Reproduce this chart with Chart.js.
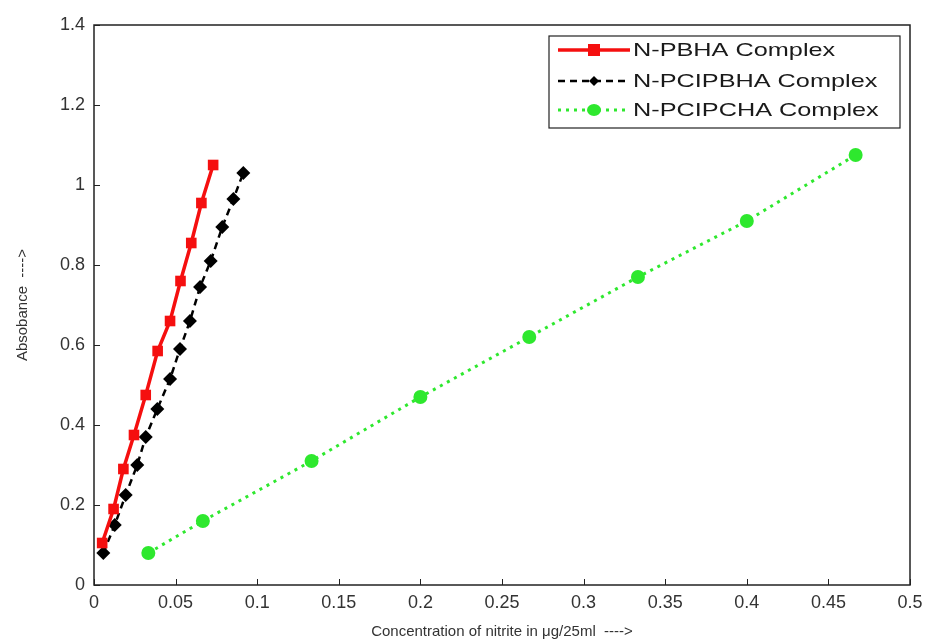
<!DOCTYPE html>
<html>
<head>
<meta charset="utf-8">
<script src="https://cdn.jsdelivr.net/npm/chart.js@4"></script>
<style>
  html, body { margin: 0; padding: 0; background: #fff; }
  #wrap { width: 927px; height: 641px; position: relative; }
</style>
</head>
<body>
<div id="wrap"><canvas id="absChart"></canvas></div>
<script>
// data
const seriesNames = ['N-PBHA Complex', 'N-PCIPBHA Complex', 'N-PCIPCHA Complex'];

const pbhaX = [0.005, 0.012, 0.018, 0.0245, 0.0317, 0.039, 0.0466, 0.053, 0.0596, 0.0658, 0.073];
const pbhaY = [0.105, 0.19, 0.29, 0.375, 0.475, 0.585, 0.66, 0.76, 0.855, 0.955, 1.05];

const pcipbhaX = [0.0057, 0.0127, 0.0194, 0.0265, 0.0317, 0.0388, 0.0466, 0.0527, 0.0588, 0.065, 0.0715, 0.0786, 0.0854, 0.0915];
const pcipbhaY = [0.08, 0.15, 0.225, 0.30, 0.37, 0.44, 0.515, 0.59, 0.66, 0.745, 0.81, 0.895, 0.965, 1.03];

const pcipchaX = [0.0333, 0.0667, 0.1333, 0.2, 0.2667, 0.3333, 0.4, 0.4667];
const pcipchaY = [0.08, 0.16, 0.31, 0.47, 0.62, 0.77, 0.91, 1.075];

const xTicks = [0, 0.05, 0.1, 0.15, 0.2, 0.25, 0.3, 0.35, 0.4, 0.45, 0.5];
const yTicks = [0, 0.2, 0.4, 0.6, 0.8, 1, 1.2, 1.4];

const RED = '#f50f0f';
const BLACK = '#000000';
const GREEN = '#2ee82e';
const FONT = '"Liberation Sans", Arial, sans-serif';

function pts(xs, ys) {
  return xs.map((x, i) => ({ x: x, y: ys[i] }));
}

// frame, inward ticks and legend box, matlab style
const framePlugin = {
  id: 'frame',
  afterDatasetsDraw(chart) {
    const ctx = chart.ctx;
    const a = chart.chartArea;
    const xs = chart.scales.x, ys = chart.scales.y;
    ctx.save();
    ctx.strokeStyle = '#222';
    ctx.lineWidth = 1.5;
    ctx.strokeRect(a.left, a.top, a.right - a.left, a.bottom - a.top);
    ctx.lineWidth = 1;
    ctx.beginPath();
    xTicks.forEach(v => {
      const px = Math.round(xs.getPixelForValue(v)) + 0.5;
      ctx.moveTo(px, a.bottom);
      ctx.lineTo(px, a.bottom - 6);
    });
    yTicks.forEach(v => {
      const py = Math.round(ys.getPixelForValue(v)) + 0.5;
      ctx.moveTo(a.left, py);
      ctx.lineTo(a.left + 6, py);
    });
    ctx.stroke();

    // legend
    const lx = 549, ly = 36, lw = 351, lh = 92;
    ctx.fillStyle = '#fff';
    ctx.fillRect(lx, ly, lw, lh);
    ctx.strokeStyle = '#222';
    ctx.lineWidth = 1.2;
    ctx.strokeRect(lx, ly, lw, lh);
    const rows = [50, 81, 110];
    chart.data.datasets.forEach((ds, i) => {
      const y = rows[i];
      ctx.strokeStyle = ds.borderColor;
      ctx.lineWidth = ds.borderWidth;
      ctx.setLineDash(ds.borderDash || []);
      ctx.beginPath();
      ctx.moveTo(558, y);
      ctx.lineTo(630, y);
      ctx.stroke();
      ctx.setLineDash([]);
      ctx.fillStyle = ds.pointBackgroundColor;
      const cx = 594;
      if (ds.pointStyle === 'rect') {
        ctx.fillRect(cx - 6, y - 6, 12, 12);
      } else if (ds.pointStyle === 'rectRot') {
        ctx.beginPath();
        ctx.moveTo(cx, y - 5); ctx.lineTo(cx + 5, y); ctx.lineTo(cx, y + 5); ctx.lineTo(cx - 5, y);
        ctx.closePath(); ctx.fill();
      } else {
        ctx.beginPath();
        ctx.ellipse(cx, y, 7, 6, 0, 0, Math.PI * 2);
        ctx.fill();
      }
      // reference text is stretched sideways
      ctx.save();
      ctx.translate(633, y + 1);
      ctx.scale(1.33, 1);
      ctx.fillStyle = '#1a1a1a';
      ctx.font = '19px ' + FONT;
      ctx.textBaseline = 'middle';
      ctx.fillText(ds.label, 0, 0);
      ctx.restore();
    });
    ctx.restore();
  }
};

document.addEventListener('DOMContentLoaded', function() {
  const ctx = document.getElementById('absChart');
  new Chart(ctx, {
    type: 'line',
    data: {
      datasets: [{
        label: seriesNames[0],
        data: pts(pbhaX, pbhaY),
        borderColor: RED,
        backgroundColor: RED,
        pointBackgroundColor: RED,
        pointBorderColor: RED,
        borderWidth: 3.5,
        pointStyle: 'rect',
        pointRadius: 7.5,
        pointBorderWidth: 0
      }, {
        label: seriesNames[1],
        data: pts(pcipbhaX, pcipbhaY),
        borderColor: BLACK,
        backgroundColor: BLACK,
        pointBackgroundColor: BLACK,
        pointBorderColor: BLACK,
        borderWidth: 2.5,
        borderDash: [7, 5],
        pointStyle: 'rectRot',
        pointRadius: 7,
        pointBorderWidth: 0
      }, {
        label: seriesNames[2],
        data: pts(pcipchaX, pcipchaY),
        borderColor: GREEN,
        backgroundColor: GREEN,
        pointBackgroundColor: GREEN,
        pointBorderColor: GREEN,
        borderWidth: 3,
        borderDash: [3, 5],
        pointStyle: 'circle',
        pointRadius: 7,
        pointBorderWidth: 0
      }]
    },
    options: {
      responsive: true,
      maintainAspectRatio: false,
      animation: false,
      layout: { padding: { top: 25, right: 17, left: 0, bottom: 0 } },
      plugins: { legend: { display: false }, tooltip: { enabled: false } },
      scales: {
        x: {
          type: 'linear',
          min: 0, max: 0.5,
          afterBuildTicks: s => { s.ticks = xTicks.map(v => ({ value: v })); },
          afterFit: s => { s.height = 56; s.paddingLeft = 0; s.paddingRight = 0; },
          grid: { display: false, drawTicks: false },
          border: { display: false },
          ticks: {
            color: '#333',
            padding: 7,
            font: { family: FONT, size: 18 },
            callback: v => String(+v.toFixed(2))
          },
          title: {
            display: true,
            text: 'Concentration of nitrite in μg/25ml  ---->',
            color: '#333',
            padding: { top: 3, bottom: 0 },
            font: { family: FONT, size: 15 }
          }
        },
        y: {
          type: 'linear',
          min: 0, max: 1.4,
          afterBuildTicks: s => { s.ticks = yTicks.map(v => ({ value: v })); },
          afterFit: s => { s.width = 94; s.paddingTop = 0; s.paddingBottom = 0; },
          grid: { display: false, drawTicks: false },
          border: { display: false },
          ticks: {
            color: '#333',
            padding: 9,
            font: { family: FONT, size: 18 },
            callback: v => String(+v.toFixed(1))
          },
          title: {
            display: true,
            text: 'Absobance  ---->',
            color: '#333',
            padding: { top: 14, bottom: 4 },
            font: { family: FONT, size: 15 }
          }
        }
      }
    },
    plugins: [framePlugin]
  });
});
</script>
</body>
</html>
